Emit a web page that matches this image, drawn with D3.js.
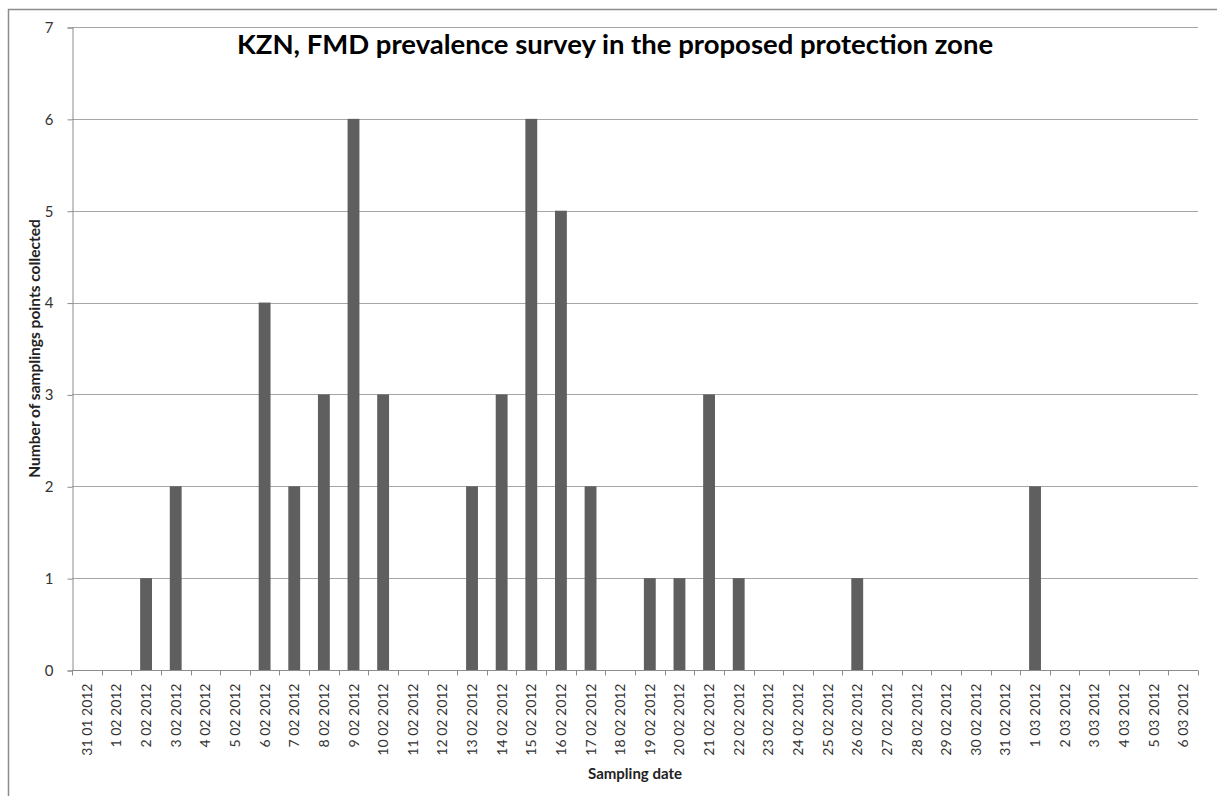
<!DOCTYPE html>
<html>
<head>
<meta charset="utf-8">
<script src="https://cdn.jsdelivr.net/npm/d3@7"></script>
<style>
  body { margin: 0; background: #fff; }
  text { font-family: Lato, "Open Sans", sans-serif; }
</style>
</head>
<body>
<svg id="chart" width="1217" height="796"></svg>
<script>
// sampling dates (as written on the original chart) and counts
var dates = ['31 01 2012'];
var days_feb = [1,2,3,4,5,6,7,8,9,10,11,12,13,14,15,16,17,18,19,20,21,22,23,24,25,26,27,28,29,30,31];
var days_mar = [1,2,3,4,5,6];
days_feb.forEach(function(d) { dates.push(d + ' 02 2012'); });
days_mar.forEach(function(d) { dates.push(d + ' 03 2012'); });

var counts = [0, 0, 1, 2, 0, 0, 4, 2, 3, 6, 3, 0, 0, 2, 3, 6, 5, 2, 0, 1, 1, 3, 1, 0, 0, 0, 1, 0, 0, 0, 0, 0, 2, 0, 0, 0, 0, 0];
var y_ticks = [0, 1, 2, 3, 4, 5, 6, 7];

plot_bars();

function plot_bars() {
	var svg = d3.select('#chart');
	var p_left = 72, p_right = 1198, p_top = 27, p_bottom = 670;

	// outer frame
	svg.append('rect').attr('x', 8.5).attr('y', 9.5).attr('width', 1230).attr('height', 800)
		.attr('fill', 'none').attr('stroke', '#8c8c8c').attr('stroke-width', 1.5);

	var x_scale = d3.scaleBand().domain(dates).range([p_left, p_right]).paddingInner(0.6).paddingOuter(0.3);
	var x_cat = d3.scaleBand().domain(dates).range([p_left, p_right]);
	var y_scale = d3.scaleLinear().domain([0, 7]).range([p_bottom, p_top]);

	// gridlines
	svg.append('g').selectAll('line').data(y_ticks.slice(1)).enter().append('line')
		.attr('x1', p_left).attr('x2', p_right)
		.attr('y1', d => Math.round(y_scale(d)) + 0.5).attr('y2', d => Math.round(y_scale(d)) + 0.5)
		.attr('stroke', '#a6a6a6').attr('stroke-width', 1);

	// bars
	svg.append('g').selectAll('rect').data(counts).enter().append('rect')
		.attr('x', (d, i) => x_scale(dates[i])).attr('width', x_scale.bandwidth())
		.attr('y', d => y_scale(d)).attr('height', d => p_bottom - y_scale(d))
		.attr('fill', '#5f5f5f');

	// y axis
	var y_axis = svg.append('g').attr('transform', 'translate(' + (p_left + 0.5) + ',0.5)')
		.call(d3.axisLeft(y_scale).tickValues(y_ticks).tickSize(5).tickPadding(14).tickFormat(d3.format('d')));
	y_axis.select('.domain').attr('stroke', '#8c8c8c');
	y_axis.selectAll('.tick line').attr('stroke', '#8c8c8c');
	y_axis.selectAll('.tick text').attr('font-size', 15).attr('fill', '#333').attr('font-family', 'Lato, sans-serif');

	// x axis: ticks on category boundaries
	var x_axis = svg.append('g').attr('transform', 'translate(0,' + (p_bottom + 0.5) + ')');
	x_axis.append('line').attr('x1', p_left).attr('x2', p_right).attr('stroke', '#8c8c8c');
	var bounds = dates.map(d => x_cat(d)).concat([p_right]);
	x_axis.selectAll('line.tk').data(bounds).enter().append('line').attr('class', 'tk')
		.attr('x1', d => Math.round(d) + 0.5).attr('x2', d => Math.round(d) + 0.5)
		.attr('y1', 0).attr('y2', 5).attr('stroke', '#8c8c8c');
	x_axis.selectAll('text').data(dates).enter().append('text')
		.attr('transform', d => 'translate(' + (x_cat(d) + x_cat.bandwidth() / 2 + 5) + ',13) rotate(-90)')
		.attr('text-anchor', 'end').attr('font-size', 14).attr('fill', '#333')
		.text(d => d);

	// titles
	svg.append('text').attr('x', 615).attr('y', 54).attr('text-anchor', 'middle')
		.attr('font-size', 27.5).attr('font-weight', 'bold').attr('fill', '#000')
		.text('KZN, FMD prevalence survey in the proposed protection zone');
	svg.append('text').attr('x', (p_left + p_right) / 2).attr('y', 779).attr('text-anchor', 'middle')
		.attr('font-size', 15).attr('font-weight', 'bold').attr('fill', '#222')
		.text('Sampling date');
	svg.append('text').attr('transform', 'translate(40,' + ((p_top + p_bottom) / 2) + ') rotate(-90)')
		.attr('text-anchor', 'middle').attr('font-size', 15.5).attr('font-weight', 'bold').attr('fill', '#222')
		.text('Number of samplings points collected');
}
</script>
</body>
</html>
